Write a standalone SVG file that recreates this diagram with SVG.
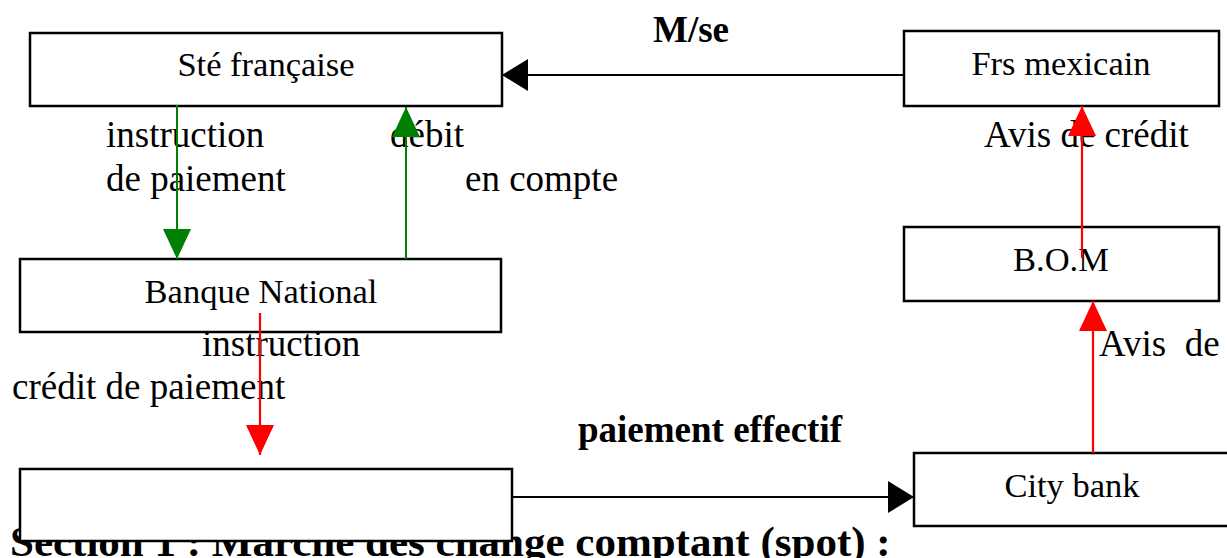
<svg xmlns="http://www.w3.org/2000/svg" width="1227" height="558" viewBox="0 0 1227 558">
<style>
.box{fill:#fff;stroke:#000;stroke-width:2.5}
.t{font-family:"Liberation Serif","Times New Roman",serif;font-size:34.5px;fill:#000}
.c{text-anchor:middle}
.lbl{font-family:"Liberation Serif","Times New Roman",serif;font-size:37px;fill:#000}
.b{font-family:"Liberation Serif","Times New Roman",serif;font-size:37px;font-weight:bold;fill:#000}
.sec{font-family:"Liberation Serif","Times New Roman",serif;font-size:43px;font-weight:bold;fill:#000}
.k{stroke:#000;stroke-width:1.8;fill:none}
.g{stroke:#008000;stroke-width:2;fill:none}
.r{stroke:#ff0000;stroke-width:2.2;fill:none}
</style>
<defs>
<marker id="ak" markerUnits="userSpaceOnUse" markerWidth="26" markerHeight="32" refX="26" refY="16" orient="auto"><path d="M0,0L26,16L0,32z" fill="#000"/></marker>
<marker id="ag" markerUnits="userSpaceOnUse" markerWidth="30" markerHeight="28" refX="30" refY="14" orient="auto"><path d="M0,0L30,14L0,28z" fill="#008000"/></marker>
<marker id="ar" markerUnits="userSpaceOnUse" markerWidth="30" markerHeight="28" refX="30" refY="14" orient="auto"><path d="M0,0L30,14L0,28z" fill="#ff0000"/></marker>
</defs>
<rect width="1227" height="558" fill="#fff"/>
<text class="sec" x="10" y="556">Section 1 : Marché des change comptant (spot) :</text>
<g id="ste-francaise"><rect class="box" x="30" y="33" width="472" height="73"/><text class="t c" x="266" y="76">Sté française</text></g>
<g id="frs-mexicain"><rect class="box" x="904" y="31" width="315" height="75"/><text class="t c" x="1061" y="75">Frs mexicain</text></g>
<g id="banque-national"><rect class="box" x="20" y="259" width="481" height="73"/><text class="t c" x="261" y="303">Banque National</text></g>
<g id="bom"><rect class="box" x="904" y="227" width="315" height="74"/><text class="t c" x="1061" y="271">B.O.M</text></g>
<g id="banque-vide"><rect class="box" x="20" y="469" width="492" height="72"/></g>
<g id="city-bank"><rect class="box" x="914" y="453" width="320" height="73"/><text class="t c" x="1072" y="497">City bank</text></g>
<g id="labels">
<text class="b c" x="691" y="42">M/se</text>
<text class="lbl" x="106" y="147">instruction</text>
<text class="lbl" x="390" y="147">débit</text>
<text class="lbl" x="106" y="191">de paiement</text>
<text class="lbl" x="465" y="191">en compte</text>
<text class="lbl" x="202" y="356">instruction</text>
<text class="lbl" x="12" y="399">crédit de paiement</text>
<text class="b" x="578" y="442">paiement effectif</text>
<text class="lbl" x="984" y="147">Avis de crédit</text>
<text class="lbl" x="1099" y="356" xml:space="preserve">Avis  de</text>
</g>
<g id="connectors">
<line class="k" x1="904" y1="75" x2="502" y2="75" marker-end="url(#ak)"/>
<line class="k" x1="512" y1="497" x2="914" y2="497" marker-end="url(#ak)"/>
<line class="g" x1="177" y1="105" x2="177" y2="259" marker-end="url(#ag)"/>
<line class="g" x1="406" y1="259" x2="406" y2="107" marker-end="url(#ag)"/>
<line class="r" x1="260" y1="313" x2="260" y2="455" marker-end="url(#ar)"/>
<line class="r" x1="1082" y1="258" x2="1082" y2="106" marker-end="url(#ar)"/>
<line class="r" x1="1093" y1="453" x2="1093" y2="301" marker-end="url(#ar)"/>
</g>
</svg>
